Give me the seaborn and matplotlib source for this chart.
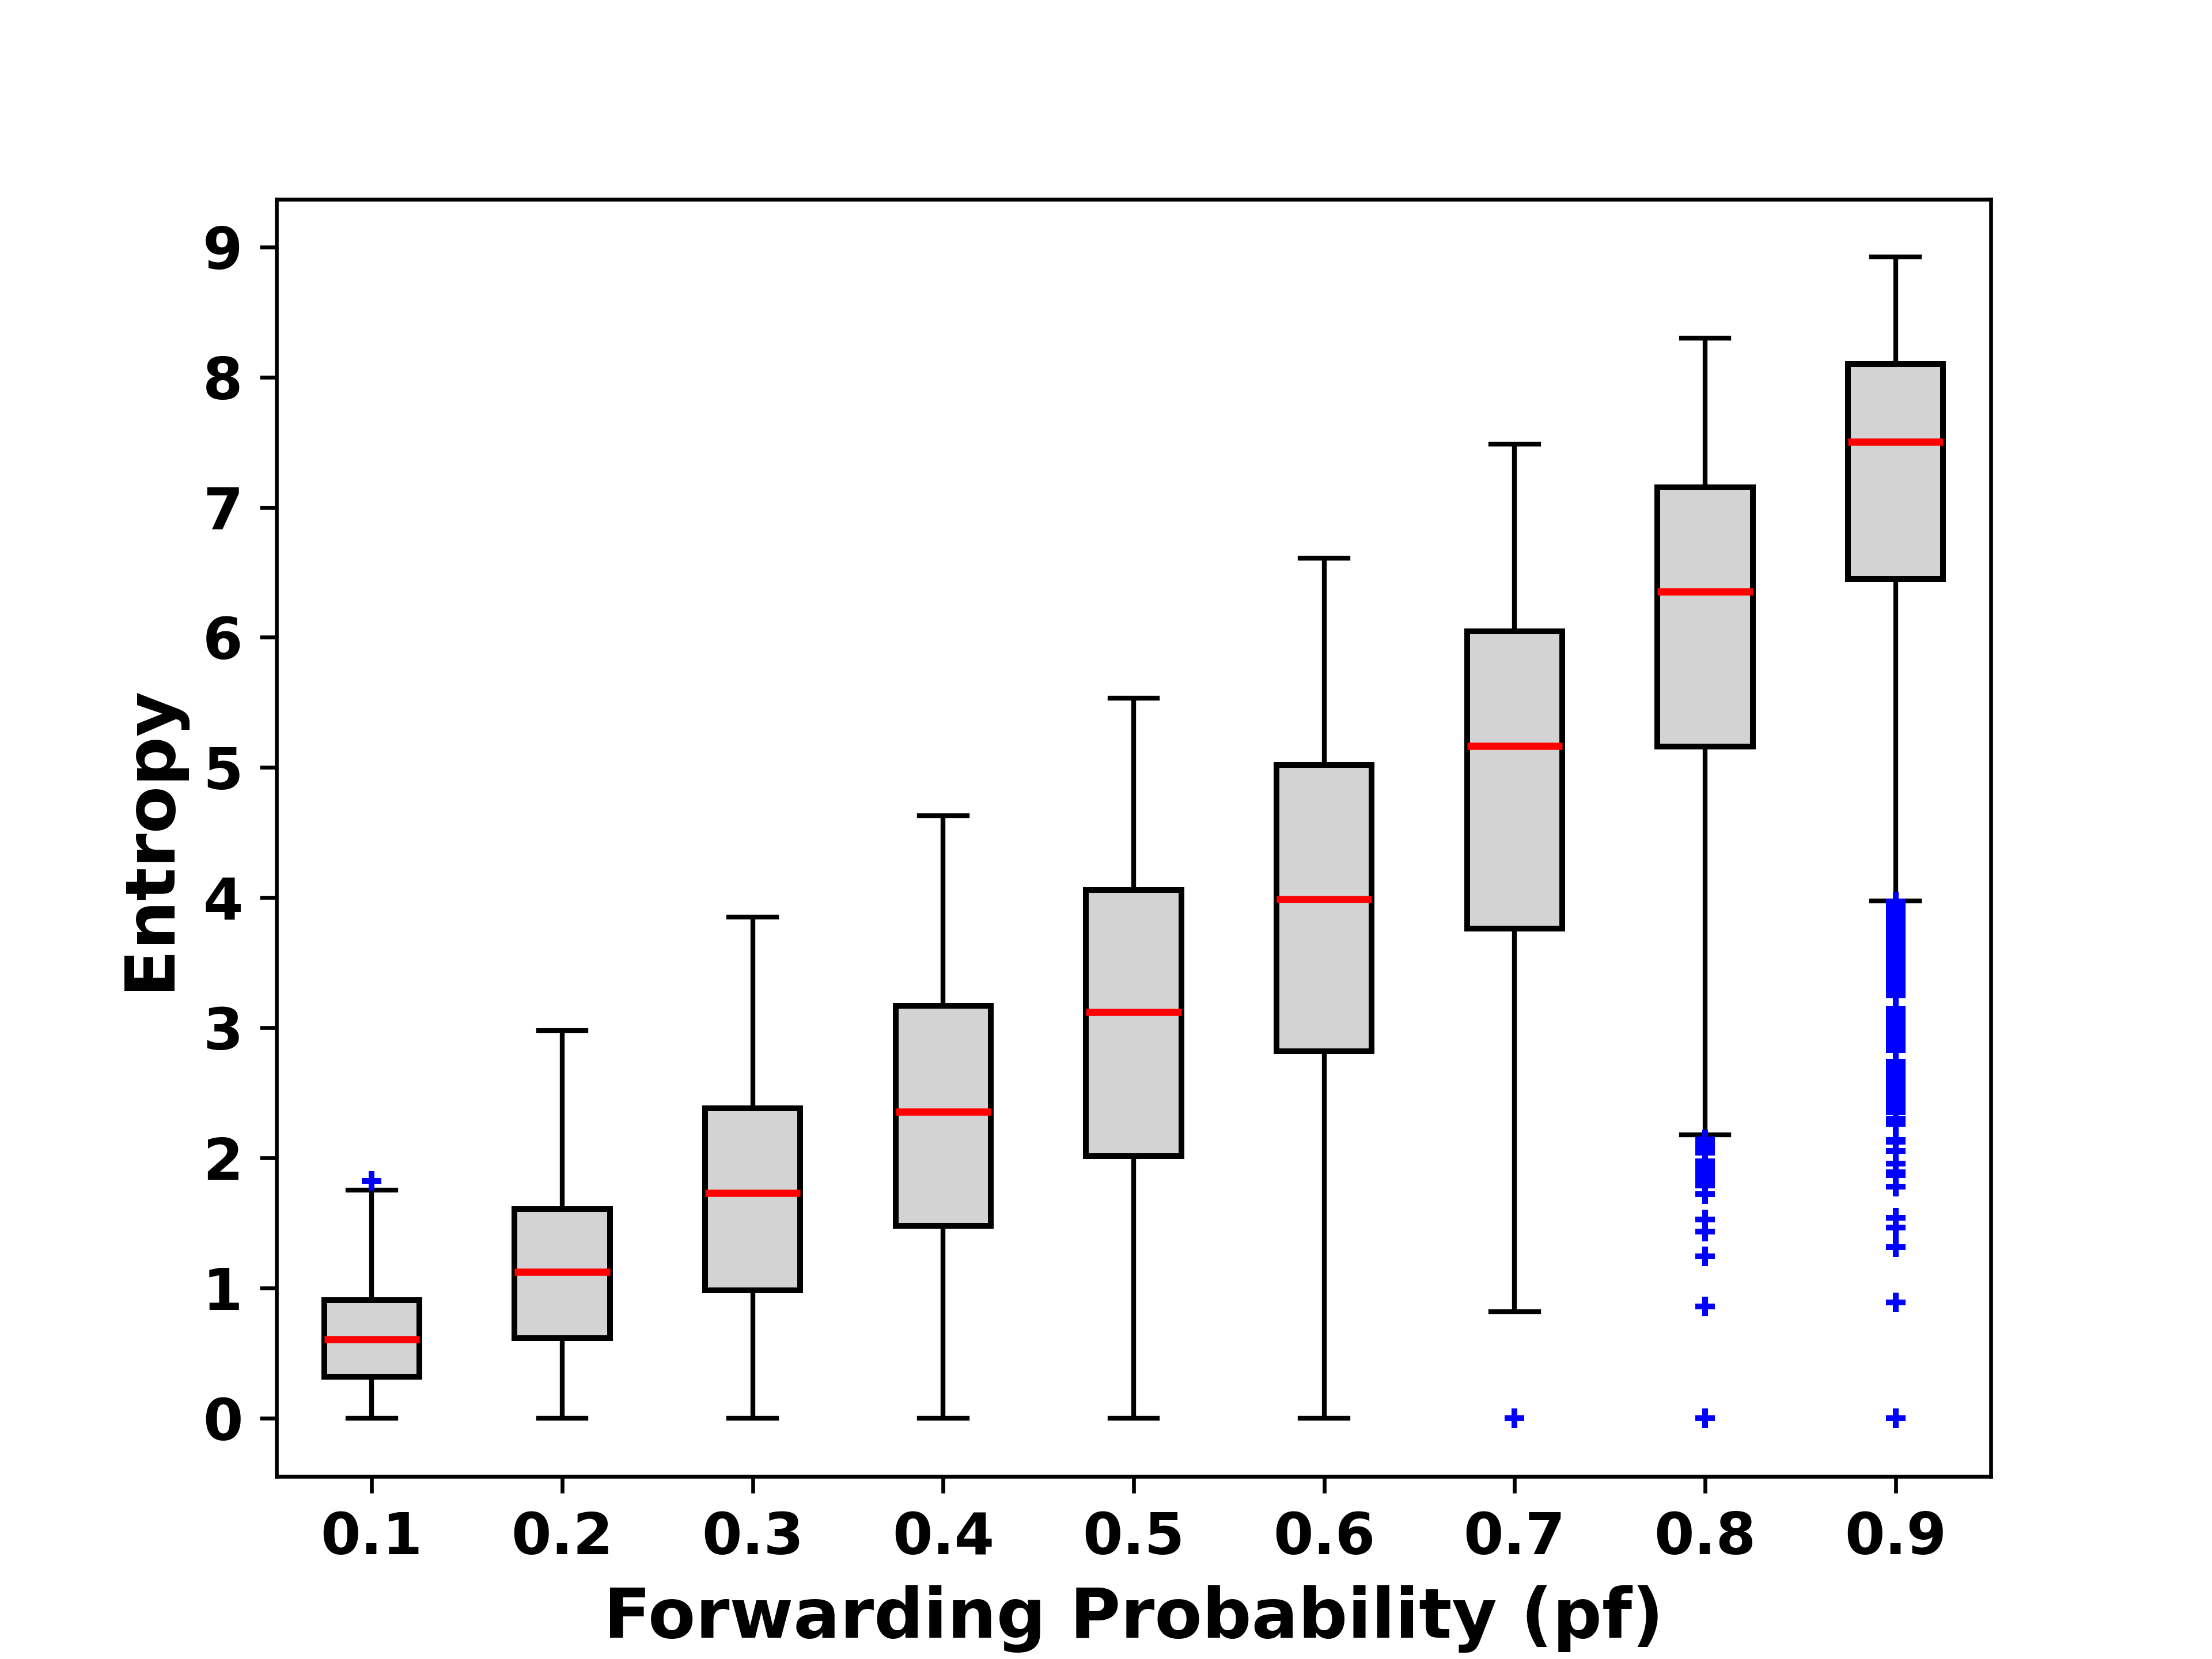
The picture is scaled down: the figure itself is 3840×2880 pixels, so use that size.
import matplotlib
matplotlib.use("Agg")
import matplotlib.pyplot as plt
import pandas as pd
import seaborn as sns

# forwarding probability categories
pf_labels = ["0.1", "0.2", "0.3", "0.4", "0.5", "0.6", "0.7", "0.8", "0.9"]

# box summary: lower whisker, q1, median, q3, upper whisker
whisker_low = [0.0, 0.0, 0.0, 0.0, 0.0, 0.0, 0.821, 2.18, 3.975]
q1 = [0.322, 0.618, 0.984, 1.478, 2.016, 2.819, 3.762, 5.160, 6.451]
median = [0.608, 1.126, 1.732, 2.358, 3.122, 3.989, 5.167, 6.353, 7.504]
q3 = [0.911, 1.606, 2.382, 3.171, 4.061, 5.018, 6.048, 7.152, 8.099]
whisker_high = [1.756, 2.98, 3.85, 4.63, 5.533, 6.607, 7.486, 8.301, 8.921]

# outliers per category
outliers = {
    "0.1": [1.823],
    "0.7": [0.0],
    "0.8": [2.144, 2.11, 2.075, 2.04,
            1.976, 1.94, 1.90, 1.865, 1.83, 1.79,
            1.724, 1.530, 1.435, 1.247, 0.862, 0.0],
    "0.9": [3.97, 3.94, 3.90, 3.87, 3.83, 3.80, 3.76, 3.73, 3.69, 3.66, 3.62,
            3.59, 3.55, 3.52, 3.48, 3.45, 3.41, 3.38, 3.34, 3.31, 3.28, 3.25,
            3.15, 3.11, 3.07, 3.03, 2.99, 2.95, 2.91, 2.87, 2.83,
            2.74, 2.70, 2.66, 2.62, 2.59, 2.555,
            2.51, 2.47, 2.43, 2.39, 2.35,
            2.304, 2.262,
            2.14, 2.125, 2.057, 1.959, 1.892, 1.867, 1.782,
            1.543, 1.468, 1.318, 0.893, 0.0],
}

rows = []
for i, pf in enumerate(pf_labels):
    for v in (whisker_low[i], q1[i], median[i], q3[i], whisker_high[i]):
        rows.append({"pf": pf, "entropy": v})
df_box = pd.DataFrame(rows)

df_out = pd.DataFrame(
    [{"pf": pf, "entropy": v} for pf, vals in outliers.items() for v in vals]
)

plt.rcParams["font.family"] = ["DejaVu Sans"]
plt.rcParams["font.weight"] = "bold"
plt.rcParams["axes.labelweight"] = "bold"

fig, ax = plt.subplots(figsize=(6.4, 4.8))

sns.boxplot(data=df_box, x="pf", y="entropy", order=pf_labels,
            whis=(0, 100), width=0.5, color="lightgrey", saturation=1,
            linecolor="black", linewidth=1.0, showfliers=False,
            boxprops=dict(linewidth=1.2),
            medianprops=dict(color="red", linewidth=1.5),
            ax=ax)

sns.stripplot(data=df_out, x="pf", y="entropy", order=pf_labels,
              jitter=False, marker="+", size=4, linewidth=1.2,
              color="blue", edgecolor="blue", zorder=3, ax=ax)

ax.set_yticks(range(0, 10))
ax.tick_params(labelsize=12)
ax.set_xlabel("Forwarding Probability (pf)", fontsize=14.4, fontweight="bold")
ax.set_ylabel("Entropy", fontsize=14.4, fontweight="bold")

fig.savefig("out.png", dpi=600)
